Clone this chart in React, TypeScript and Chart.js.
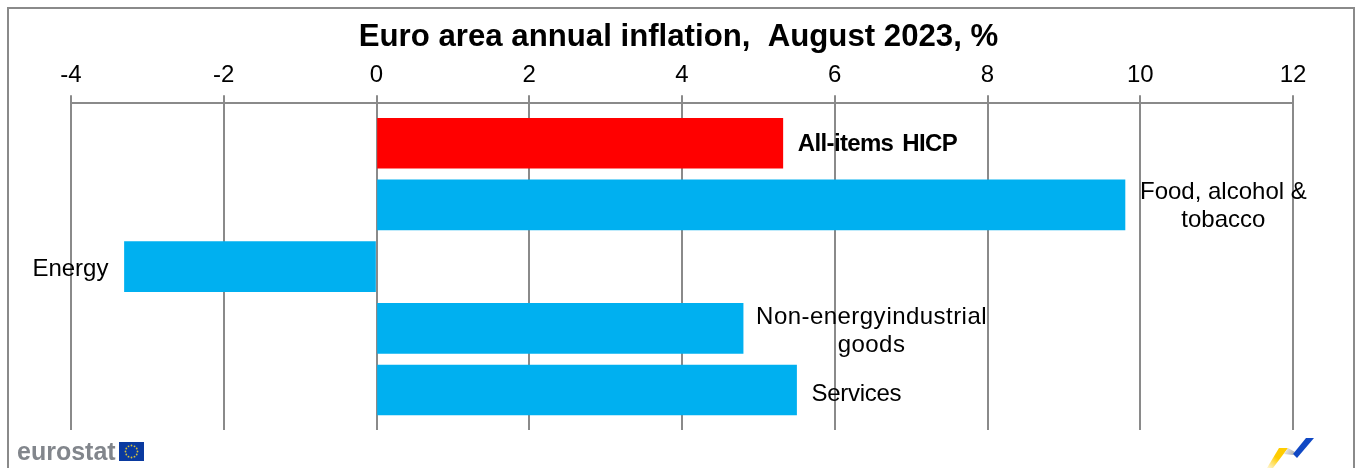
import React, { useEffect, useRef } from "react";
import { Chart, registerables } from "chart.js";

Chart.register(...registerables);

const categories = ["All-items HICP", "Food, alcohol &|tobacco", "Energy", "Non-energy industrial|goods", "Services"];
const values = [5.32, 9.8, -3.3, 4.8, 5.5];
const barColors = ["#ff0000", "#00b0f0", "#00b0f0", "#00b0f0", "#00b0f0"];
const titleText = "Euro area annual inflation,  August 2023, %";
const FONT = "'Liberation Sans', Arial, sans-serif";
const GRID = "#8a8a8a";
const labelLetterSpacing = [-0.65, 0, 0, 0.45, -0.3];
const labelWordSpacing = [3, 0, 0, -6.7, 0];

const poly = (c: any, color: any, pts: number[][]) => {
  c.fillStyle = color;
  c.beginPath();
  pts.forEach((p, i) => (i ? c.lineTo(p[0], p[1]) : c.moveTo(p[0], p[1])));
  c.closePath();
  c.fill();
};

const decorations = {
  id: "decorations",
  afterDraw(chart: any) {
    const c = chart.ctx;
    const x = chart.scales.x;
    const y = chart.scales.y;
    c.save();
    c.fillStyle = "#000";
    c.textBaseline = "alphabetic";
    values.forEach((v, i) => {
      const lines = categories[i].split("|");
      const bold = i === 0;
      c.font = `${bold ? "bold " : ""}24px ${FONT}`;
      c.letterSpacing = `${labelLetterSpacing[i]}px`;
      c.wordSpacing = `${labelWordSpacing[i]}px`;
      const w = Math.max(...lines.map((l) => c.measureText(l).width));
      const end = x.getPixelForValue(v);
      const gap = i === 3 ? 13 : 15;
      const cx = v < 0 ? end - 16 - w / 2 : end + gap + w / 2;
      const cy = y.getPixelForValue(i) + 7.3 + i * 0.8;
      c.textAlign = "center";
      lines.forEach((l, k) => c.fillText(l, cx, cy + (k - (lines.length - 1) / 2) * 28));
    });
    c.wordSpacing = "0px";
    c.letterSpacing = "0px";

    // frame
    c.strokeStyle = GRID;
    c.lineWidth = 2;
    c.beginPath();
    c.moveTo(8, 468);
    c.lineTo(8, 8);
    c.lineTo(1354, 8);
    c.lineTo(1354, 468);
    c.stroke();

    // eurostat logo
    c.fillStyle = "#82868c";
    c.textAlign = "left";
    c.textBaseline = "middle";
    c.font = `bold 25px ${FONT}`;
    c.fillText("eurostat", 17, 453);
    c.fillStyle = "#0a3aa0";
    c.fillRect(119, 442, 25, 19);
    c.fillStyle = "#d8c23a";
    for (let a = 0; a < 12; a++) {
      const t = (a * Math.PI) / 6;
      c.beginPath();
      c.arc(131.5 + 6 * Math.cos(t), 451.5 + 6 * Math.sin(t), 0.9, 0, Math.PI * 2);
      c.fill();
    }

    // right logo
    const yg = c.createLinearGradient(1268, 468, 1282, 450);
    yg.addColorStop(0, "#fff6d0");
    yg.addColorStop(0.6, "#ffcc00");
    poly(c, yg, [[1279, 448], [1288, 448], [1273, 468], [1267, 468]]);
    const gg = c.createLinearGradient(1286, 450, 1296, 456);
    gg.addColorStop(0, "#e4e4e4");
    gg.addColorStop(1, "#a0a0a0");
    poly(c, gg, [[1288, 448], [1295, 452], [1293, 455], [1284, 454]]);
    poly(c, "#1048c4", [[1306, 438], [1314, 438], [1297, 458], [1293, 454]]);
    c.restore();
  },
};

export default function App() {
  const ref = useRef<HTMLCanvasElement>(null);
  useEffect(() => {
    document.body.style.margin = "0";
    const chart = new Chart(ref.current!, {
      type: "bar",
      data: {
        datasets: [
          {
            data: values.map((v, i) => ({ x: v, y: i })),
            backgroundColor: barColors,
            barThickness: 50,
          },
        ],
      },
      options: {
        indexAxis: "y",
        animation: false,
        responsive: false,
        layout: { padding: { left: 0, right: 0, top: 0, bottom: 38 } },
        plugins: {
          legend: { display: false },
          tooltip: { enabled: false },
          title: {
            display: true,
            text: titleText,
            color: "#000",
            font: { family: FONT, size: 31.2, weight: "bold" },
            padding: { top: 19, bottom: 0 },
          },
        },
        scales: {
          x: {
            position: "top",
            min: -4,
            max: 12,
            ticks: {
              stepSize: 2,
              color: "#000",
              font: { family: FONT, size: 24 },
              padding: 5,
              maxRotation: 0,
            },
            grid: { color: GRID, lineWidth: 2, tickLength: 8 },
            border: { color: GRID, width: 2 },
            afterFit: (s: any) => {
              s.paddingLeft = 71;
              s.paddingRight = 64;
            },
          },
          y: {
            type: "linear",
            display: false,
            reverse: true,
            offset: false,
            grid: { offset: false },
            min: -0.648,
            max: 4.648,
          },
        },
      },
      plugins: [decorations],
    } as any);
    return () => chart.destroy();
  }, []);
  return <canvas ref={ref} width={1357} height={468} style={{ display: "block" }} />;
}
